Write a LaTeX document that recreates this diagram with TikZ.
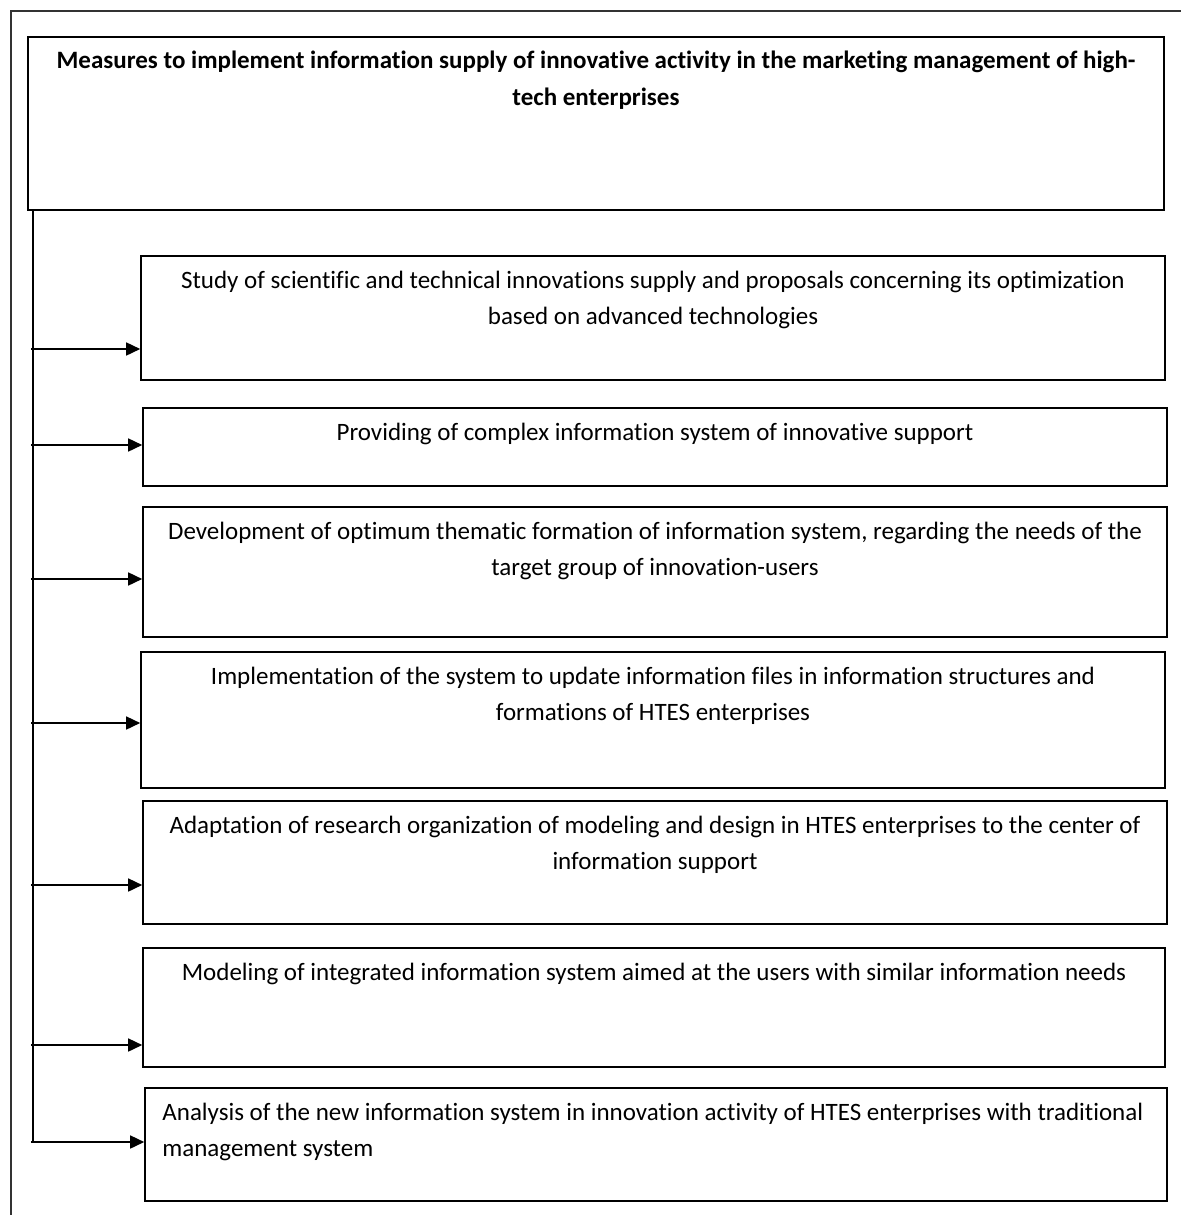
\documentclass[tikz,border=0pt]{standalone}
\usepackage{fontspec}
\setmainfont{Carlito}[Ligatures=NoCommon]
\usetikzlibrary{positioning,arrows.meta}

\tikzset{
    box/.style={draw=black, line width=1.6pt, inner sep=0pt},
    boxtext/.style={inner sep=0pt, align=center, font=\fontsize{25}{36}\selectfont},
    arr/.style={black, line width=1.6pt, -{Triangle[length=14pt,width=13pt]}}
}

\begin{document}
\begin{tikzpicture}[x=1pt, y=-1pt]
    \useasboundingbox (0,0) rectangle (1181,1215);
    % outer frame
    \draw[line width=2pt, black!80] (11,1215) -- (11,11) -- (1181,11);
    % header
    \node[box, minimum width=1136pt, minimum height=173pt] (head) at (596,123.5) {};
    \node[boxtext, font=\fontsize{25}{37}\selectfont\bfseries, below=15pt of head.north] (headtxt)
        {Measures to implement information supply of innovative activity in the marketing management of high-\\tech enterprises};
    % measures
    \node[box, minimum width=1024pt, minimum height=124pt] (m1) at (653,318) {};
    \node[box, minimum width=1024pt, minimum height=78pt] (m2) at (655,447) {};
    \node[box, minimum width=1024pt, minimum height=130pt] (m3) at (655,572) {};
    \node[box, minimum width=1024pt, minimum height=136pt] (m4) at (653,720) {};
    \node[box, minimum width=1024pt, minimum height=123pt] (m5) at (655,862.5) {};
    \node[box, minimum width=1022pt, minimum height=119pt] (m6) at (654,1007.5) {};
    \node[box, minimum width=1022pt, minimum height=113pt] (m7) at (656,1144.5) {};
    \node[boxtext, below=16pt of m1.north] (t1)
        {Study of scientific and technical innovations supply and proposals concerning its optimization\\based on advanced technologies};
    \node[boxtext, below=16pt of m2.north] (t2)
        {Providing of complex information system of innovative support};
    \node[boxtext, below=16pt of m3.north] (t3)
        {Development of optimum thematic formation of information system, regarding the needs of the\\target group of innovation-users};
    \node[boxtext, below=16pt of m4.north] (t4)
        {Implementation of the system to update information files in information structures and\\formations of HTES enterprises};
    \node[boxtext, below=16pt of m5.north] (t5)
        {Adaptation of research organization of modeling and design in HTES enterprises to the center of\\information support};
    \node[boxtext, below=16pt of m6.north] (t6)
        {Modeling of integrated information system aimed at the users with similar information needs};
    \node[boxtext, align=left, anchor=north west] (t7) at ([xshift=18pt, yshift=-16pt]m7.north west)
        {Analysis of the new information system in innovation activity of HTES enterprises with traditional\\management system};
    % trunk and arrows
    \coordinate (top) at (head.south -| 33,0);
    \foreach \y/\b in {349/m1, 445/m2, 579/m3, 723/m4, 885/m5, 1045/m6, 1142/m7} {
        \coordinate (a\b) at (31,\y);
        \draw[arr] (a\b) -- (a\b -| \b.west);
    }
    \draw[black, line width=1.6pt] (top) -- (33,1142);
\end{tikzpicture}
\end{document}
